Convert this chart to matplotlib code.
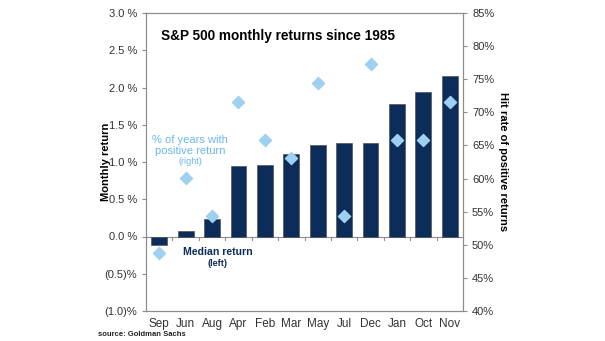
import matplotlib.pyplot as plt
import numpy as np

months = ['Sep', 'Jun', 'Aug', 'Apr', 'Feb', 'Mar', 'May', 'Jul', 'Dec', 'Jan', 'Oct', 'Nov']
median_ret = [-0.12, 0.08, 0.23, 0.94, 0.96, 1.11, 1.23, 1.26, 1.26, 1.78, 1.94, 2.15]
hit_rate = [48.8, 60.1, 54.3, 71.6, 65.8, 63.1, 74.4, 54.3, 77.3, 65.8, 65.8, 71.6]
left_ticks = [-1.0, -0.5, 0.0, 0.5, 1.0, 1.5, 2.0, 2.5, 3.0]
right_ticks = [40, 45, 50, 55, 60, 65, 70, 75, 80, 85]

navy = '#0c2d5a'
light = '#9ed0f2'
grey = '#8c8c8c'

plt.rcParams['font.family'] = ['Liberation Sans', 'DejaVu Sans']

fig = plt.figure(figsize=(6.05, 3.41), dpi=100)
ax = fig.add_axes([146 / 605, 1 - 311 / 341, (463 - 146) / 605, (311 - 13) / 341])
ax2 = ax.twinx()

x = np.arange(len(months))
ax.bar(x, median_ret, width=0.6, color=navy, edgecolor='#555555', linewidth=0.5, zorder=2)
ax2.scatter(x, hit_rate, marker='D', s=38, color=light, zorder=3)

ax.set_xlim(-0.5, len(months) - 0.5)
ax.set_ylim(-1.0, 3.0)
ax2.set_ylim(40, 85)

def fmt_left(v):
    if v < 0:
        return '(%.1f)%%' % abs(v)
    return '%.1f %%' % v

ax.set_yticks(left_ticks)
ax.set_yticklabels([fmt_left(v) for v in left_ticks])
ax2.set_yticks(right_ticks)
ax2.set_yticklabels(['%d%%' % v for v in right_ticks])

# category axis sits on the zero line, like excel
ax.axhline(0, color=grey, linewidth=0.8, zorder=1)
for b in np.arange(0.5, len(months) - 0.5, 1.0):
    ax.plot([b, b], [0, -0.05], color=grey, linewidth=0.8, zorder=1)
ax.set_xticks(x)
ax.set_xticklabels(months)
ax.tick_params(axis='x', length=0, pad=5)

for a in (ax, ax2):
    for s in a.spines.values():
        s.set_color(grey)
        s.set_linewidth(0.8)
    a.tick_params(axis='y', colors='#333333', labelsize=8, length=3, color=grey)
ax.tick_params(axis='x', colors='#333333', labelsize=8.5)
ax2.set_zorder(ax.get_zorder() + 1)

ax.set_ylabel('Monthly return', fontsize=8, fontweight='bold')
ax.yaxis.set_label_coords(-0.11, 0.5)
ax2.set_ylabel('Hit rate of positive returns', fontsize=8, fontweight='bold', rotation=270, va='center')
ax2.yaxis.set_label_coords(1.125, 0.5)

ax.text(0.416, 0.923, 'S&P 500 monthly returns since 1985', transform=ax.transAxes,
        ha='center', va='center', fontsize=9.8, fontweight='bold')
ax.text(1.17, 1.22, '% of years with\npositive return', ha='center', va='center',
        fontsize=8, color='#6cb6ea', linespacing=1.05)
ax.text(1.17, 1.0, '(right)', ha='center', va='center', fontsize=6.5, color='#6cb6ea')
ax.text(2.2, -0.21, 'Median return', ha='center', va='center', fontsize=7.6,
        fontweight='bold', color=navy)
ax.text(2.2, -0.36, '(left)', ha='center', va='center', fontsize=6.5, fontweight='bold', color=navy)

fig.text(98 / 605, 1 - 335 / 341, 'source: Goldman Sachs', fontsize=5.5, fontweight='bold',
         ha='left', va='center', color='#222222')

fig.savefig('out.png', dpi=100)
